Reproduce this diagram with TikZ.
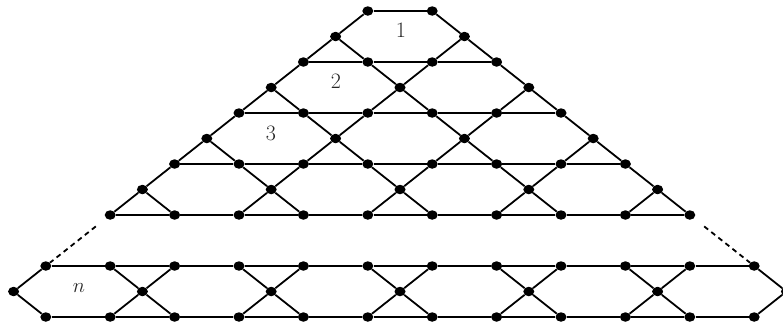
\documentclass[tikz,border=0pt]{standalone}
\usetikzlibrary{shapes.geometric}
\begin{document}
\begin{tikzpicture}[x=1pt,y=1pt,
  dot/.style={ellipse,fill=black,inner sep=0pt,minimum width=11pt,minimum height=9.5pt},
  edge/.style={line width=1.8pt,black},
  dashedge/.style={edge,dash pattern=on 5pt off 4pt,shorten <=13pt},
  lab/.style={font=\fontsize{22}{26}\selectfont,text=black!85}]
\useasboundingbox (0,0) rectangle (783,-327);
% ---- vertices of the upper triangle ----
\foreach \k in {0,2,4,6,8}{
  \foreach \i in {0,...,\k,\the\numexpr\k+1\relax}{
    \pgfmathtruncatemacro\p{-\k-1+2*\i}
    \pgfmathtruncatemacro\q{\p+12}
    \node[dot] (v\k-\q) at ({400+32.2*\p},{-11-25.5*\k}) {};
  }
}
\foreach \k/\n in {1/1,3/2,5/3,7/4}{
  \foreach \i in {0,...,\n}{
    \pgfmathtruncatemacro\p{-\k-1+4*\i}
    \pgfmathtruncatemacro\q{\p+12}
    \node[dot] (v\k-\q) at ({400+32.2*\p},{-11-25.5*\k}) {};
  }
}
% ---- vertices of the bottom row ----
\foreach \k in {10,12}{
  \foreach \p in {-11,-9,...,11}{
    \pgfmathtruncatemacro\q{\p+12}
    \node[dot] (v\k-\q) at ({400+32.2*\p},{-11-25.5*\k}) {};
  }
}
\foreach \p in {-12,-8,...,12}{
  \pgfmathtruncatemacro\q{\p+12}
  \node[dot] (v11-\q) at ({400+32.2*\p},{-11-25.5*11}) {};
}
% ---- horizontal edges ----
\foreach \k in {0,2,4,6,8}{
  \foreach \i in {0,...,\k}{
    \pgfmathtruncatemacro\p{-\k-1+2*\i}
    \pgfmathtruncatemacro\q{\p+12}
    \pgfmathtruncatemacro\r{\p+14}
    \draw[edge] (v\k-\q) -- (v\k-\r);
  }
}
\foreach \k in {10,12}{
  \foreach \p in {-11,-9,...,9}{
    \pgfmathtruncatemacro\q{\p+12}
    \pgfmathtruncatemacro\r{\p+14}
    \draw[edge] (v\k-\q) -- (v\k-\r);
  }
}
% ---- down-right diagonals ----
\foreach \c/\ks in {1/0,-3/1,-7/3,-11/5,-15/7}{
  \foreach \k in {\ks,...,7}{
    \pgfmathtruncatemacro\kk{\k+1}
    \pgfmathtruncatemacro\qa{\k+\c+12}
    \pgfmathtruncatemacro\qb{\k+1+\c+12}
    \draw[edge] (v\k-\qa) -- (v\kk-\qb);
  }
}
% ---- down-left diagonals ----
\foreach \c/\ks in {-1/0,3/1,7/3,11/5,15/7}{
  \foreach \k in {\ks,...,7}{
    \pgfmathtruncatemacro\kk{\k+1}
    \pgfmathtruncatemacro\qa{\c-\k+12}
    \pgfmathtruncatemacro\qb{\c-\k-1+12}
    \draw[edge] (v\k-\qa) -- (v\kk-\qb);
  }
}
% ---- bottom row crossings and ends ----
\foreach \p in {-8,-4,0,4,8}{
  \pgfmathtruncatemacro\q{\p+12}
  \pgfmathtruncatemacro\l{\p+11}
  \pgfmathtruncatemacro\r{\p+13}
  \draw[edge] (v10-\l) -- (v11-\q) -- (v12-\r);
  \draw[edge] (v10-\r) -- (v11-\q) -- (v12-\l);
}
\draw[edge] (v10-1) -- (v11-0) -- (v12-1);
\draw[edge] (v10-23) -- (v11-24) -- (v12-23);
% ---- dashed continuation ----
\draw[dashedge] (v8-3) -- (v10-1);
\draw[dashedge] (v8-21) -- (v10-23);
% ---- labels ----
\node[lab] (l1) at (401,-30) {1};
\node[lab] (l2) at (336,-81) {2};
\node[lab] (l3) at (271,-133) {3};
\node[lab] (ln) at (79,-288) {$n$};
\end{tikzpicture}
\end{document}
